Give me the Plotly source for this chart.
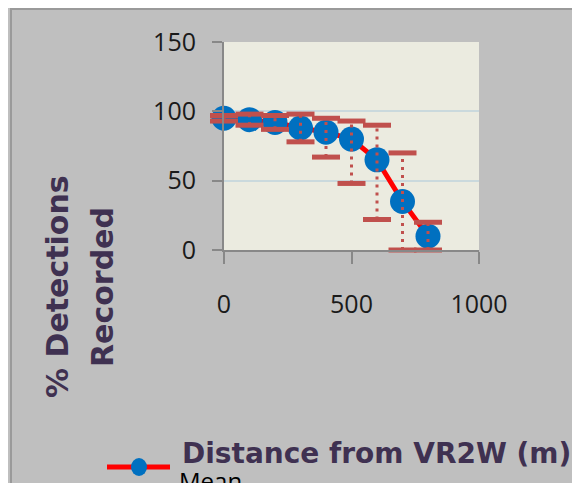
import plotly.graph_objects as go

distance = [0, 100, 200, 300, 400, 500, 600, 700, 800]
mean_pct = [95, 94, 92, 88, 85, 80, 65, 35, 10]
upper_pct = [97, 98, 97, 98, 95, 93, 90, 70, 20]
lower_pct = [93, 90, 87, 78, 67, 48, 22, 0, 0]
x_ticks = [0, 500, 1000]
y_ticks = [0, 50, 100, 150]

W, H = 580, 483
OFF = 8  # page body margin
L, R, T, B = 224 - OFF, 101 + OFF, 42 - OFF, 233 + OFF
pw, ph = W - L - R, H - T - B

def px(xs):  # screen x -> paper
    return (xs - OFF - L) / pw

def py(ys):  # screen y -> paper
    return 1 - (ys - OFF - T) / ph

ERR = "#C0504D"
TITLE = "#3F3151"
FONT = "Open Sans"
TFONT = "DejaVu Sans"

# error bar stems built from the data
ex, ey = [], []
for d, lo, hi in zip(distance, lower_pct, upper_pct):
    ex += [d, d, None]
    ey += [lo, hi, None]

fig = go.Figure()
fig.add_trace(go.Scatter(
    x=distance, y=mean_pct, mode="lines+markers", name="Mean",
    line=dict(color="#FF0000", width=5),
    marker=dict(color="#0070C0", size=25, line=dict(width=0)),
    showlegend=False, cliponaxis=False))
fig.add_trace(go.Scatter(
    x=ex, y=ey, mode="lines", line=dict(color=ERR, width=3, dash="3px,5px"),
    showlegend=False, hoverinfo="skip", cliponaxis=False))
fig.add_trace(go.Scatter(
    x=distance + distance, y=upper_pct + lower_pct, mode="markers",
    marker=dict(symbol="line-ew", size=20, line=dict(color=ERR, width=5)),
    showlegend=False, hoverinfo="skip", cliponaxis=False))

fig.update_layout(
    width=W, height=H,
    margin=dict(l=L, r=R, t=T, b=B, pad=0),
    paper_bgcolor="#BFBFBF", plot_bgcolor="#EBEBE0",
    font=dict(family=FONT, size=24, color="#1a1a1a"),
    xaxis=dict(range=[0, 1000], tickvals=x_ticks, showgrid=False, zeroline=False,
               showline=True, linecolor="#888888", linewidth=2,
               ticks="outside", ticklen=12, tickwidth=2, tickcolor="#888888",
               ticklabelstandoff=19, tickfont=dict(size=25)),
    yaxis=dict(range=[0, 150], tickvals=y_ticks, showgrid=True, gridcolor="#CAD9DD",
               gridwidth=1.5, zeroline=False,
               showline=True, linecolor="#888888", linewidth=2,
               ticks="outside", ticklen=10, tickwidth=2, tickcolor="#888888",
               ticklabelstandoff=11, tickfont=dict(size=25)),
    shapes=[
        dict(type="line", xref="paper", yref="paper", x0=px(11), x1=px(11),
             y0=py(9), y1=py(495), line=dict(color="#9A9A9A", width=2)),
        dict(type="line", xref="paper", yref="paper", x0=px(10), x1=px(600),
             y0=py(9), y1=py(9), line=dict(color="#9A9A9A", width=2)),
        # manual legend symbol
        dict(type="line", xref="paper", yref="paper", x0=px(107), x1=px(170),
             y0=py(467), y1=py(467), line=dict(color="#FF0000", width=5)),
        dict(type="circle", xref="paper", yref="paper", x0=px(131), x1=px(147),
             y0=py(458), y1=py(476), fillcolor="#0070C0", line=dict(width=0)),
    ],
    annotations=[
        dict(text="Mean", xref="paper", yref="paper", x=px(177), y=py(480),
             xanchor="left", yanchor="middle", showarrow=False,
             font=dict(family=FONT, size=24, color="black")),
        dict(text="<b>Distance from VR2W (m)</b>", xref="paper", yref="paper",
             x=px(180), y=py(453), xanchor="left", yanchor="middle", showarrow=False,
             font=dict(family=TFONT, size=28, color=TITLE)),
        dict(text="<b>% Detections</b>", xref="paper", yref="paper",
             x=px(57), y=py(287), xanchor="center", yanchor="middle", textangle=-90,
             showarrow=False, font=dict(family=TFONT, size=30, color=TITLE)),
        dict(text="<b>Recorded</b>", xref="paper", yref="paper",
             x=px(102), y=py(287), xanchor="center", yanchor="middle", textangle=-90,
             showarrow=False, font=dict(family=TFONT, size=30, color=TITLE)),
    ],
)

fig.write_html("out.html")
